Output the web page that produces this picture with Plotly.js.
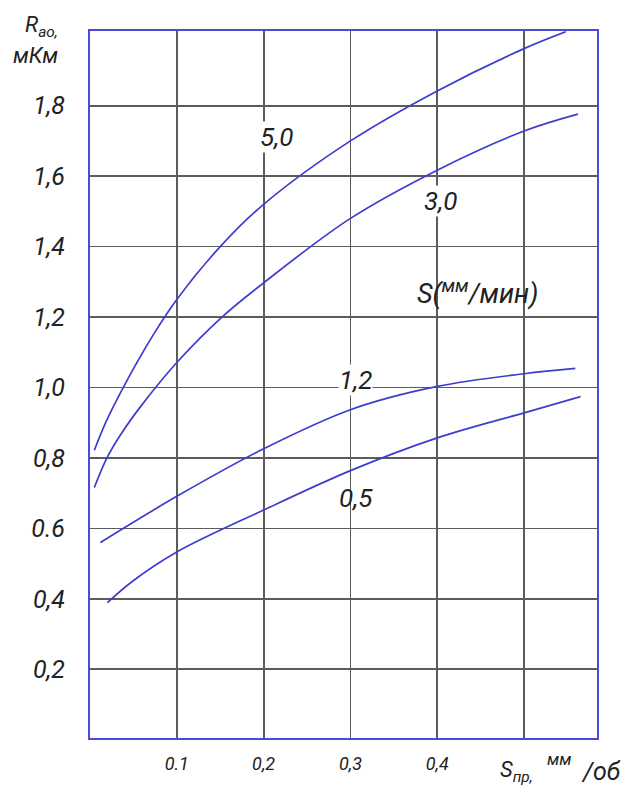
<!DOCTYPE html>
<html>
<head>
<meta charset="utf-8">
<script src="https://cdn.plot.ly/plotly-3.0.1.min.js"></script>
<style>html,body{margin:0;padding:0;background:#fff;}#chart{width:635px;height:790px;}</style>
</head>
<body>
<div id="chart"></div>
<script>
// Feed S (mm/min) series: x = Sпр (mm/rev), y = Ra (µm)
const series_names = ['5,0', '3,0', '1,2', '0,5'];
const x_50 = [0.005, 0.018, 0.035, 0.073, 0.100, 0.150, 0.200, 0.300, 0.400, 0.500, 0.548];
const y_50 = [0.822, 0.900, 0.985, 1.150, 1.250, 1.400, 1.520, 1.700, 1.842, 1.962, 2.010];
const x_30 = [0.005, 0.0195, 0.035, 0.058, 0.100, 0.152, 0.200, 0.300, 0.400, 0.500, 0.562];
const y_30 = [0.716, 0.800, 0.865, 0.945, 1.071, 1.200, 1.297, 1.480, 1.617, 1.728, 1.776];
const x_12 = [0.012, 0.100, 0.200, 0.300, 0.400, 0.500, 0.559];
const y_12 = [0.560, 0.691, 0.826, 0.937, 1.003, 1.039, 1.054];
const x_05 = [0.020, 0.049, 0.100, 0.200, 0.300, 0.400, 0.500, 0.565];
const y_05 = [0.389, 0.450, 0.533, 0.652, 0.764, 0.857, 0.928, 0.974];

const x_tickvals = [0.1, 0.2, 0.3, 0.4, 0.5];
const x_ticktext = ['0.1', '0,2', '0,3', '0,4', ''];
const y_tickvals = [0.2, 0.4, 0.6, 0.8, 1.0, 1.2, 1.4, 1.6, 1.8];
const y_ticktext = ['0,2', '0,4', '0.6', '0,8', '1,0', '1,2', '1,4', '1,6', '1,8'];

const FONT = 'Roboto, DejaVu Sans, sans-serif';
const INK = '#222';
const lineColor = '#3d3dcc';
const xs = [x_50, x_30, x_12, x_05];
const ys = [y_50, y_30, y_12, y_05];
const traces = xs.map((xv, i) => ({
  x: xv, y: ys[i], type: 'scatter', mode: 'lines', name: series_names[i],
  line: {color: lineColor, width: 1.7, shape: 'spline', smoothing: 1.0},
  hoverinfo: 'skip'
}));

const fnt = (size) => ({family: FONT, size: size, color: INK, style: 'italic'});
const txt = (text, x, y, size, extra) => Object.assign({
  text: text, x: x, y: y, xref: 'x', yref: 'y', showarrow: false, font: fnt(size)
}, extra || {});
const ptxt = (text, x, y, size, xanchor, yanchor) => ({
  text: text, x: x, y: y, xref: 'paper', yref: 'paper', showarrow: false,
  xanchor: xanchor, yanchor: yanchor, font: fnt(size)
});

const annotations = [
  txt('5,0', 0.215, 1.71, 26, {bgcolor: '#fff', borderpad: 0}),
  txt('3,0', 0.404, 1.53, 26, {bgcolor: '#fff', borderpad: 0}),
  txt('S(<sup>мм</sup>/мин)', 0.446, 1.27, 27),
  txt('1,2', 0.306, 1.02, 26, {bgcolor: '#fff', borderpad: 0}),
  txt('0,5', 0.306, 0.686, 26),
  ptxt('R<sub>ao,</sub>', -0.132, 1.006, 22, 'left', 'middle'),
  ptxt('мКм', -0.156, 0.966, 22, 'left', 'middle'),
  ptxt('S<sub>пр,</sub>', 0.804, -0.048, 22, 'left', 'middle'),
  ptxt('мм', 0.925, -0.030, 17, 'center', 'middle'),
  ptxt('/об', 1.052, -0.048, 25, 'right', 'middle')
];

const layout = {
  width: 635, height: 790,
  margin: {l: 90, r: 38, t: 31, b: 52},
  paper_bgcolor: '#fff', plot_bgcolor: '#fff',
  showlegend: false,
  xaxis: {
    range: [0, 0.584], tickvals: x_tickvals, ticktext: x_ticktext,
    showgrid: true, gridcolor: '#5c5c5c', gridwidth: 1.8,
    zeroline: false, showline: true, mirror: true, linecolor: '#4b4bd6', linewidth: 2,
    ticks: '', ticklabelstandoff: 8,
    tickfont: fnt(18)
  },
  yaxis: {
    range: [0.005, 2.012], tickvals: y_tickvals, ticktext: y_ticktext,
    showgrid: true, gridcolor: '#5c5c5c', gridwidth: 1.8,
    zeroline: false, showline: true, mirror: true, linecolor: '#4b4bd6', linewidth: 2,
    ticks: '', ticklabelstandoff: 18,
    tickfont: fnt(25)
  },
  annotations: annotations
};

Plotly.newPlot('chart', traces, layout, {staticPlot: true, displayModeBar: false});
</script>
</body>
</html>
